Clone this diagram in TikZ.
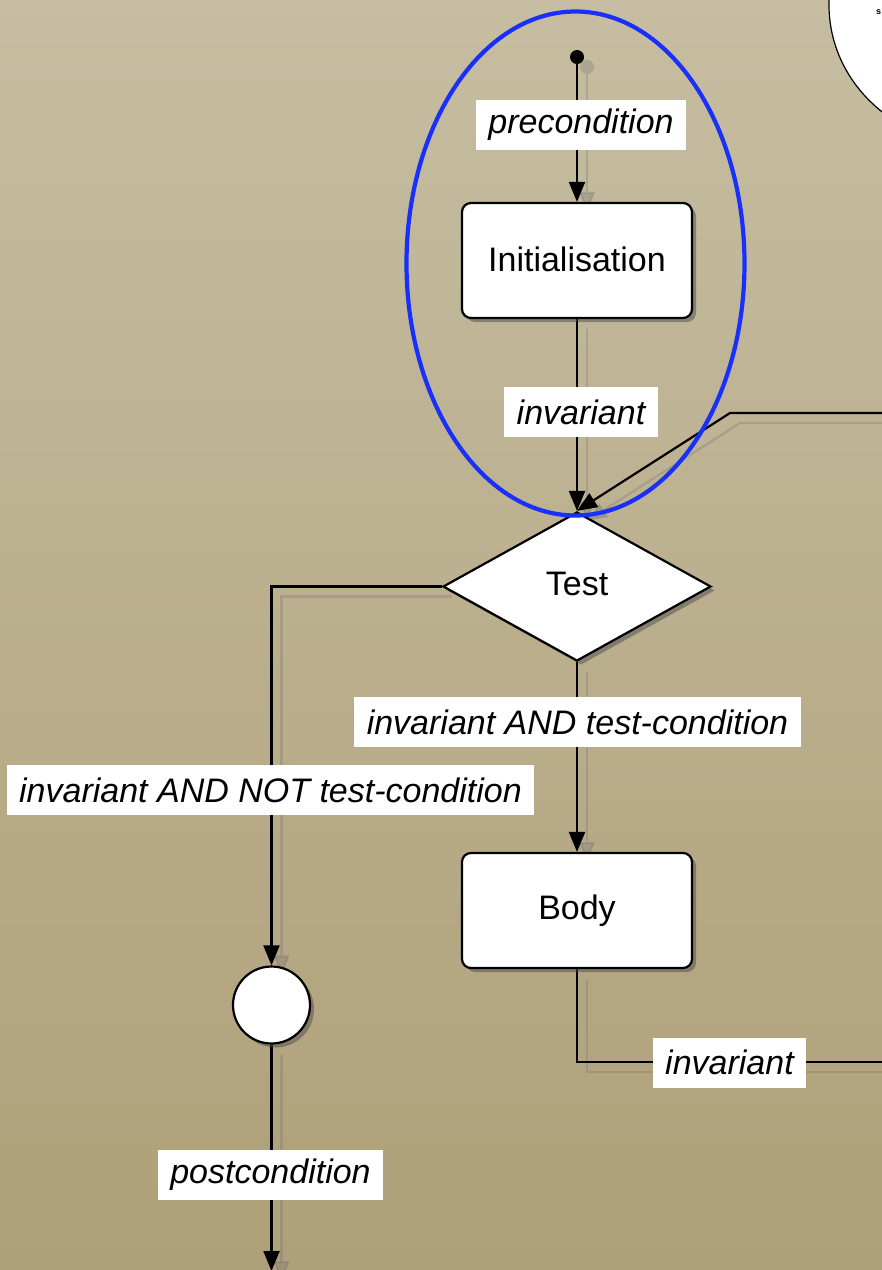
\documentclass[tikz,border=0pt]{standalone}
\usepackage{fontspec}
\setmainfont{Liberation Sans}
\usetikzlibrary{shapes.geometric,arrows.meta,shadows}

\definecolor{paperTop}{RGB}{198,189,162}
\definecolor{paperMid}{RGB}{190,177,140}
\definecolor{paperBot}{RGB}{174,160,120}
\definecolor{ringBlue}{RGB}{24,48,250}

\pgfdeclarelayer{back}
\pgfdeclarelayer{wires}
\pgfsetlayers{back,wires,main}

\tikzset{
  tip/.style={-{Triangle[length=20pt,width=16pt]}},
  wire/.style={draw=black, line width=2.2pt},
  wireshadow/.style={draw=black!55, line width=2.2pt, opacity=0.3,
    transform canvas={shift={(10pt,-10pt)}}},
  boxshadow/.style={drop shadow={shadow xshift=4pt, shadow yshift=-4pt,
    opacity=0.5, fill=black!70}},
  stepbox/.style={draw=black, line width=2.2pt, fill=white, rounded corners=9pt,
    minimum width=230pt, minimum height=115pt, inner sep=0pt, boxshadow,
    font=\fontsize{34}{40}\selectfont},
  testbox/.style={diamond, draw=black, line width=2.2pt, fill=white, inner sep=0pt,
    minimum width=268pt, minimum height=149pt, aspect=1.8, boxshadow,
    font=\fontsize{34}{40}\selectfont},
  endbox/.style={circle, draw=black, line width=2.2pt, fill=white,
    minimum size=77pt, inner sep=0pt, boxshadow},
  tag/.style={fill=white, inner xsep=12.5pt, inner ysep=0pt, minimum height=50pt,
    font=\fontsize{34}{40}\selectfont\itshape},
}

\begin{document}
\begin{tikzpicture}[x=1pt,y=-1pt]
\useasboundingbox (0,0) rectangle (882,1270);

% paper background
\begin{pgfonlayer}{back}
  \shade[top color=paperTop, middle color=paperMid, bottom color=paperBot]
    (0,0) rectangle (882,1270);
  % neighbouring bubble at the upper right
  \draw[fill=white, line width=1.2pt] (979,5) ellipse [x radius=150, y radius=140];
  \node[anchor=west, inner sep=0pt, font=\fontsize{9}{10}\selectfont\bfseries]
    (nbtext) at (876,12) {s};
\end{pgfonlayer}

% nodes
\node[circle, fill=black, minimum size=14pt, inner sep=0pt] (start) at (577,57) {};
\node[stepbox] (init) at (577,260.5) {\raisebox{3pt}{Initialisation}};
\node[testbox] (test) at (577,586.5) {\raisebox{6pt}{Test}};
\node[stepbox] (body) at (577,910.5) {\raisebox{2pt}{Body}};
\node[endbox] (stop) at (271.5,1005) {};

\coordinate (loopin) at (882,413);
\coordinate (bend) at (730,413);
\coordinate (loopout) at (882,1062);
\coordinate (finish) at (271.5,1271);

% connectors with their cast shadows
\begin{pgfonlayer}{wires}
  \fill[black!55, opacity=0.3] (587,67) circle (7pt);
  \foreach \sty in {wireshadow, wire} {
    \draw[\sty, tip] (start) -- (init);
    \draw[\sty, tip] (init) -- (test);
    \draw[\sty, tip] (loopin) -- (bend) -- (test.north);
    \draw[\sty, tip] (test.west) -| (stop.north);
    \draw[\sty, tip] (test.south) -- (body.north);
    \draw[\sty] (body.south) |- (loopout);
    \draw[\sty, tip] (stop.south) -- (finish);
  }
\end{pgfonlayer}

% labels on the connectors
\node[tag] (lpre) at (581,125) {precondition};
\node[tag] (linv) at (581,412) {invariant};
\node[tag] (ltrue) at (577.5,722) {invariant AND test-condition};
\node[tag] (lfalse) at (270.5,790) {invariant AND NOT test-condition};
\node[tag] (lbody) at (729.5,1062.5) {invariant};
\node[tag] (lpost) at (270.5,1175) {postcondition};

% highlight ring around the initialisation step
\draw[ringBlue, line width=4.2pt] (575.5,263.5) ellipse [x radius=169, y radius=252];
\end{tikzpicture}
\end{document}
